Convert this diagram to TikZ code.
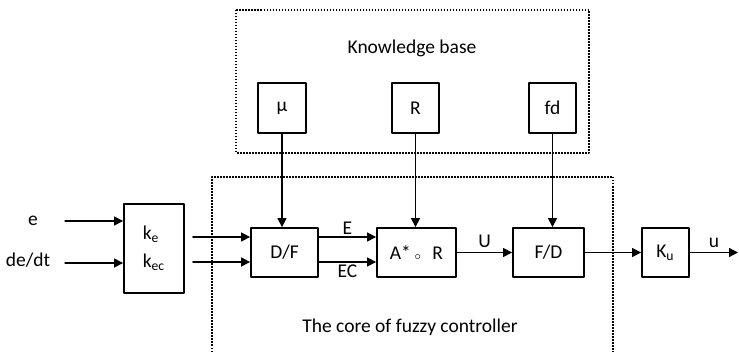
\documentclass[tikz,border=0pt]{standalone}
\usepackage{fontspec}
\setmainfont{Carlito}
\usetikzlibrary{arrows.meta}

\begin{document}
\begin{tikzpicture}[x=0.5pt, y=-0.5pt, line cap=round, line join=round,
	font=\fontsize{9.75}{12}\selectfont,
	blk/.style={draw, line width=0.9pt, inner sep=0pt},
	arr/.style={-{Triangle[length=4.5pt,width=4.5pt]}, line width=0.65pt},
	dotline/.style={line width=0.75pt, dash pattern=on 0.75pt off 0.75pt, line cap=butt}]
	\useasboundingbox (0,0) rectangle (739,352);

	% Knowledge base
	\draw[dotline] (236,10) rectangle (589,153);
	\node (kb) at (412,48) {Knowledge base};
	\node[blk, minimum width=24pt, minimum height=25pt] (mu) at (282,108) {µ};
	\node[blk, minimum width=23.5pt, minimum height=25pt] (rule) at (415.5,108) {R};
	\node[blk, minimum width=23.5pt, minimum height=25pt] (fdb) at (552.5,108) {fd};

	% Core of the controller (bottom edge runs off the page)
	\draw[dotline] (212,352) -- (212,177) -- (613,177) -- (613,352);
	\node (core) at (410,327) {The core of fuzzy controller};

	% Inputs and gains
	\node (e) at (33,221) {e};
	\node (dedt) at (28,260) {de/dt};
	\coordinate (ein) at (65,221);
	\coordinate (dein) at (65,263);
	\node[blk, minimum width=30pt, minimum height=44.5pt, align=left] (k) at (154,248.5)
		{k\textsubscript{e}\\[2pt]k\textsubscript{ec}};
	\draw[arr] (ein) -- (ein -| k.west);
	\draw[arr] (dein) -- (dein -| k.west);

	% Blocks of the main chain
	\node[blk, minimum width=33.5pt, minimum height=24.5pt] (df) at (284.5,252.5) {D/F};
	\node[blk, minimum width=39.5pt, minimum height=24.5pt] (infer) at (416.5,252.5)
		{A*\,\raisebox{-0.3pt}{\tiny$\circ$}\,\, R};
	\node[blk, minimum width=35.5pt, minimum height=24.5pt] (fd) at (548.5,252.5) {F/D};
	\node[blk, minimum width=23.5pt, minimum height=24.5pt] (ku) at (665.5,252.5) {K\textsubscript{u}};
	\coordinate (uout) at (738,252.5);

	% Signal rows E and EC
	\coordinate (rE) at (0,237);
	\coordinate (rEC) at (0,262);
	\draw[arr, shorten <=4pt] (k.east |- rE) -- (df.west |- rE);
	\draw[arr, shorten <=4pt] (k.east |- rEC) -- (df.west |- rEC);
	\draw[arr] (df.east |- rE) -- node[above, inner sep=1pt] {E} (infer.west |- rE);
	\draw[arr] (df.east |- rEC) -- node[below, inner sep=1pt] {EC} (infer.west |- rEC);

	% Output side
	\draw[arr] (infer) -- node[above, inner sep=2pt] {U} (fd);
	\draw[arr] (fd) -- (ku);
	\draw[arr] (ku) -- node[above, inner sep=2pt] {u} (uout);

	% From the knowledge base down
	\draw[arr] (mu) -- (mu |- df.north);
	\draw[arr] (rule) -- (rule |- infer.north);
	\draw[arr] (fdb) -- (fdb |- fd.north);
\end{tikzpicture}
\end{document}
